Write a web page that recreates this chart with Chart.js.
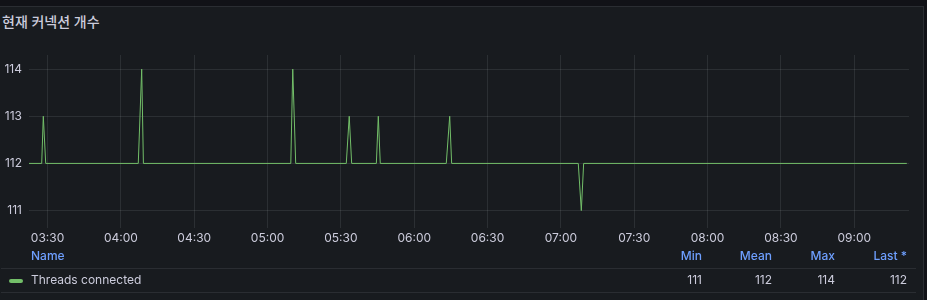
<!DOCTYPE html>
<html>
<head>
<meta charset="utf-8">
<script src="https://cdn.jsdelivr.net/npm/chart.js@4"></script>
<style>
  html, body { margin: 0; padding: 0; }
  body { width: 927px; height: 300px; background: #111217; position: relative; overflow: hidden;
         font-family: Inter, "Noto Sans CJK KR", "Noto Sans", sans-serif; }
  .panel { position: absolute; left: -1px; top: 6px; width: 925px; height: 320px; box-sizing: border-box;
           background: #181b1f; border: 1px solid #2a2d32; }
  .title { position: absolute; left: 2px; top: 14px; font-size: 14px; line-height: 16px; font-weight: 500;
           color: #ccccdc; font-family: Inter, "Noto Sans CJK KR", sans-serif; white-space: nowrap; }
  #wrap { position: absolute; left: 0; top: 40px; width: 927px; height: 210px; }
  .hd { position: absolute; top: 249px; font-size: 12px; line-height: 14px; font-weight: 500; color: #6e9fff; white-space: nowrap; }
  .cell { position: absolute; top: 273px; font-size: 12px; line-height: 14px; color: #ccccdc; white-space: nowrap; }
  .r { text-align: right; }
  .sep { position: absolute; left: 1px; width: 915px; height: 1px; background: #2a2d32; }
  .mark { position: absolute; left: 9px; top: 279px; width: 14px; height: 4px; border-radius: 2px; background: #73bf69; }
</style>
</head>
<body>
<div class="panel"></div>
<div class="title" id="title"></div>
<div id="wrap"><canvas id="c" width="927" height="210"></canvas></div>
<div class="hd" id="hName" style="left:31px"></div>
<div class="hd r" id="hMin" style="right:225px"></div>
<div class="hd r" id="hMean" style="right:155px"></div>
<div class="hd r" id="hMax" style="right:92px"></div>
<div class="hd r" id="hLast" style="right:20px"></div>
<div class="sep" style="top:268px"></div>
<div class="sep" style="top:292px"></div>
<div class="mark"></div>
<div class="cell" id="sName" style="left:31px"></div>
<div class="cell r" id="vMin" style="right:225px"></div>
<div class="cell r" id="vMean" style="right:155px"></div>
<div class="cell r" id="vMax" style="right:92px"></div>
<div class="cell r" id="vLast" style="right:20px"></div>
<script>
// ---- data ----
const panelTitle = '현재 커넥션 개수';
const seriesName = 'Threads connected';
const timeWindow = ['03:22:24', '09:22:24'];
const times = [
  '03:22:24', '03:27:36', '03:28:15', '03:29:14',
  '04:07:06', '04:08:30', '04:09:12',
  '05:09:30', '05:10:18', '05:11:30',
  '05:32:12', '05:33:24', '05:34:24',
  '05:44:30', '05:45:18', '05:46:06',
  '06:13:06', '06:14:30', '06:15:18',
  '07:07:06', '07:08:21', '07:09:18',
  '09:21:30'
];
const values = [
  112, 112, 113, 112,
  112, 114, 112,
  112, 114, 112,
  112, 113, 112,
  112, 113, 112,
  112, 113, 112,
  112, 111, 112,
  112
];
const xTickLabels = ['03:30','04:00','04:30','05:00','05:30','06:00','06:30','07:00','07:30','08:00','08:30','09:00'];
const yTickValues = [111, 112, 113, 114];
const yRange = [110.63, 114.3];
const legendHeaders = ['Name', 'Min', 'Mean', 'Max', 'Last *'];
const legendStats = { min: 111, mean: 112, max: 114, last: 112 };

// ---- helpers ----
function toMin(s) { const p = s.split(':').map(Number); return p[0] * 60 + p[1] + (p[2] || 0) / 60; }
function fmt(m) { const h = Math.floor(m / 60), mm = Math.round(m - h * 60); return String(h).padStart(2,'0') + ':' + String(mm).padStart(2,'0'); }

document.getElementById('title').textContent = panelTitle;
['hName','hMin','hMean','hMax','hLast'].forEach((id, i) => document.getElementById(id).textContent = legendHeaders[i]);
document.getElementById('sName').textContent = seriesName;
document.getElementById('vMin').textContent = legendStats.min;
document.getElementById('vMean').textContent = legendStats.mean;
document.getElementById('vMax').textContent = legendStats.max;
document.getElementById('vLast').textContent = legendStats.last;

const points = times.map((t, i) => ({ x: toMin(t), y: values[i] }));
const gridColor = 'rgba(240,250,255,0.09)';
const tickFont = { family: 'Inter, "Noto Sans", sans-serif', size: 12 };

new Chart(document.getElementById('c'), {
  type: 'line',
  data: { datasets: [{
    label: seriesName, data: points,
    borderColor: '#73bf69', borderWidth: 1, pointRadius: 0, tension: 0, fill: false
  }]},
  options: {
    responsive: false, animation: false,
    layout: { padding: { left: 0, right: 18, top: 15, bottom: 0 } },
    plugins: { legend: { display: false }, tooltip: { enabled: false } },
    scales: {
      x: {
        type: 'linear', min: toMin(timeWindow[0]), max: toMin(timeWindow[1]),
        afterBuildTicks: s => { s.ticks = xTickLabels.map(l => ({ value: toMin(l) })); },
        afterFit: s => { s.height = 22; },
        ticks: { callback: v => fmt(v), color: '#ccccdc', font: tickFont, padding: 3, maxRotation: 0, autoSkip: false },
        grid: { color: gridColor, drawTicks: false },
        border: { display: false }
      },
      y: {
        min: yRange[0], max: yRange[1],
        afterBuildTicks: s => { s.ticks = yTickValues.map(v => ({ value: v })); },
        afterFit: s => { s.width = 29; },
        ticks: { color: '#ccccdc', font: tickFont, padding: 7 },
        grid: { color: gridColor, drawTicks: false },
        border: { display: false }
      }
    }
  }
});
</script>
</body>
</html>
